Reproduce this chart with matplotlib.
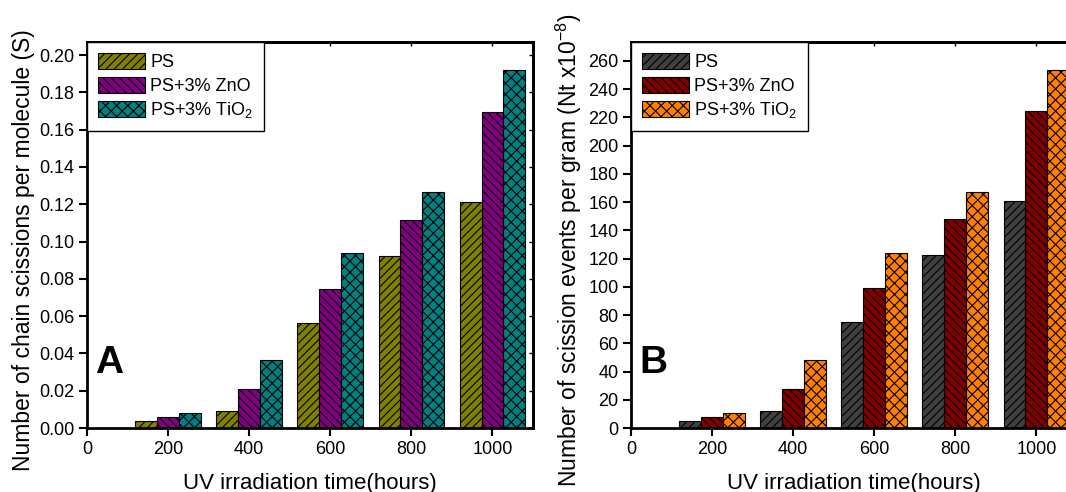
import matplotlib
matplotlib.use('Agg')
import matplotlib.pyplot as plt
import numpy as np

plt.rcParams['font.family'] = ['Liberation Sans', 'DejaVu Sans']
plt.rcParams['mathtext.fontset'] = 'custom'
plt.rcParams['mathtext.rm'] = 'Liberation Sans'
plt.rcParams['mathtext.it'] = 'Liberation Sans:italic'
plt.rcParams['hatch.linewidth'] = 0.8

# UV irradiation time (hours)
hours = [200, 400, 600, 800, 1000]
series_names = ['PS', 'PS+3% ZnO', 'PS+3% TiO$_2$']

# Panel A: chain scissions per molecule (S)
s_ps = [0.0036, 0.0091, 0.0564, 0.0925, 0.1214]
s_zno = [0.0061, 0.0211, 0.0748, 0.1118, 0.1693]
s_tio2 = [0.0080, 0.0364, 0.0938, 0.1264, 0.1920]

# Panel B: scission events per gram (Nt x10^-8)
nt_ps = [4.7, 12.3, 74.9, 122.8, 161.0]
nt_zno = [8.0, 27.9, 99.2, 148.1, 224.6]
nt_tio2 = [10.6, 48.2, 124.0, 167.2, 253.8]

colors_a = ['#808000', '#800080', '#008080']
colors_b = ['#404040', '#800000', '#ff8000']
hatches = ['////', '\\\\\\\\', 'xxx']


def bar_panel(ax, data, colors, ylim, yticks, ylabel, letter, fmt):
    x = np.array(hours)
    width = 54
    for i, (vals, c, h, name) in enumerate(zip(data, colors, hatches,
                                               series_names)):
        ax.bar(x + (i - 1) * width, vals, width, color=c, hatch=h,
               edgecolor='black', linewidth=0.8, label=name)

    ax.set_xlim(0, 1100)
    ax.set_ylim(*ylim)
    ax.set_xticks([0, 200, 400, 600, 800, 1000])
    ax.set_yticks(yticks)
    ax.set_yticklabels([fmt % v for v in yticks])
    ax.tick_params(direction='out', length=6, width=1.5, labelsize=13,
                   pad=3)
    for sp in ax.spines.values():
        sp.set_linewidth(2.0)

    # inward ticks on top and right, Origin style
    top = ax.secondary_xaxis('top')
    top.set_xticks([0, 200, 400, 600, 800, 1000])
    top.tick_params(direction='in', length=3, width=1, labeltop=False)
    top.spines['top'].set_linewidth(2.0)
    right = ax.secondary_yaxis('right')
    right.set_yticks(yticks)
    right.tick_params(direction='in', length=3, width=1, labelright=False)
    right.spines['right'].set_linewidth(2.0)

    ax.set_xlabel('UV irradiation time(hours)', fontsize=16, labelpad=11)
    ax.set_ylabel(ylabel, fontsize=16.5, labelpad=3)
    ax.yaxis.label.set_y(0.46)

    leg = ax.legend(loc='upper left', fontsize=13, fancybox=False,
                    edgecolor='black', framealpha=1, borderaxespad=0,
                    handlelength=2.6, handleheight=1.0, labelspacing=0.3,
                    handletextpad=0.3, borderpad=0.6)
    leg.get_frame().set_linewidth(1.0)

    ax.text(0.018, 0.1425, letter, transform=ax.transAxes, fontsize=28,
            fontweight='bold', ha='left', va='baseline')


fig = plt.figure(figsize=(10.66, 4.92), dpi=100)
ax_a = fig.add_axes([0.0816, 0.130, 0.4184, 0.7846])
ax_b = fig.add_axes([0.5919, 0.130, 0.4184, 0.7846])

bar_panel(ax_a, [s_ps, s_zno, s_tio2], colors_a, (0, 0.207),
          np.arange(0, 0.201, 0.02),
          'Number of chain scissions per molecule (S)', 'A', '%.2f')
bar_panel(ax_b, [nt_ps, nt_zno, nt_tio2], colors_b, (0, 273.4),
          np.arange(0, 261, 20),
          'Number of scission events per gram (Nt x10$^{-8}$)', 'B', '%d')

fig.savefig('out.png', dpi=100)
